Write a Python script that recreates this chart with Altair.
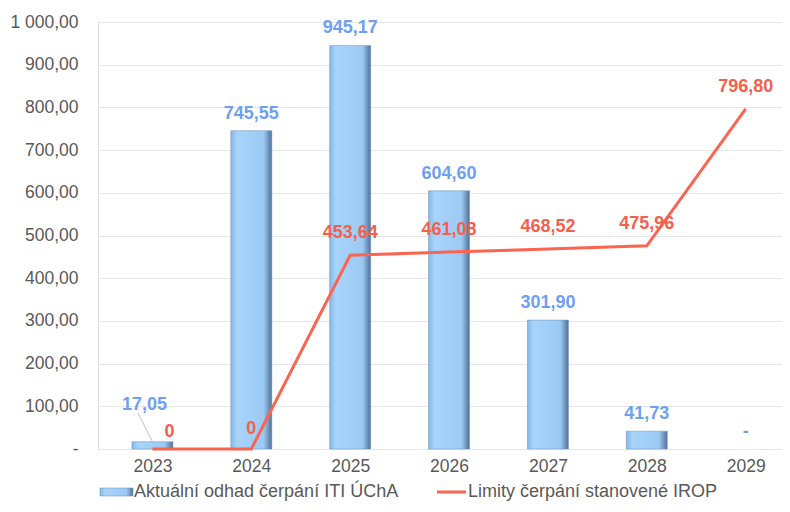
import altair as alt
import pandas as pd

years = [2023, 2024, 2025, 2026, 2027, 2028, 2029]
odhad = [17.05, 745.55, 945.17, 604.60, 301.90, 41.73, 0]
limity = [0, 0, 453.64, 461.08, 468.52, 475.96, 796.80]
series_bar = "Aktuální odhad čerpání ITI ÚChA"
series_line = "Limity čerpání stanovené IROP"

df = pd.DataFrame({"rok": years, "odhad": odhad, "limity": limity})

FONT = "Liberation Sans"
BLUE_TXT = "#6f9ff0"
RED = "#fa6450"
RED_TXT = "#f5604c"

xscale = alt.Scale(domain=[2022.5, 2029.317], nice=False, zero=False)
yscale = alt.Scale(domain=[0, 1000], nice=False)

x = alt.X("rok:Q", scale=xscale, title=None,
          axis=alt.Axis(values=years, format="d", grid=False, domain=False, ticks=False,
                        labelFontSize=17.5, labelColor="#595959", labelFont=FONT,
                        labelPadding=8))

base = alt.Chart(df)

grad = alt.Gradient(
    gradient="linear", x1=0, x2=1, y1=0, y2=0,
    stops=[alt.GradientStop(offset=0, color="#86b8e6"),
           alt.GradientStop(offset=0.15, color="#a8d4fb"),
           alt.GradientStop(offset=0.8, color="#9ccaf4"),
           alt.GradientStop(offset=1, color="#4f7196")])

bars = base.transform_filter("datum.odhad > 0").mark_bar(
    size=41, color=grad, stroke="#6a8fb8", strokeWidth=0.5).encode(
    x=x,
    y=alt.Y("odhad:Q", scale=yscale, title=None,
            axis=alt.Axis(values=[0, 100, 200, 300, 400, 500, 600, 700, 800, 900, 1000],
                          labelExpr="datum.value == 0 ? '-' : (datum.value == 1000 ? '1 000,00' : replace(format(datum.value, '.2f'), '.', ','))",
                          gridColor="#e6e6e6", gridWidth=1, domain=False, ticks=False,
                          labelFontSize=17.5, labelColor="#595959", labelFont=FONT,
                          labelPadding=20)),
)

bar_labels = base.transform_filter("datum.rok != 2023").transform_calculate(
    lab="datum.odhad == 0 ? '-' : replace(format(datum.odhad, '.2f'), '.', ',')"
).mark_text(dy=-17, baseline="middle", fontSize=18, fontWeight="bold",
            color=BLUE_TXT, font=FONT).encode(
    x=alt.X("rok:Q", scale=xscale), y=alt.Y("odhad:Q", scale=yscale), text="lab:N")

bar_label_2023 = base.transform_filter("datum.rok == 2023").transform_calculate(
    lab="replace(format(datum.odhad, '.2f'), '.', ',')"
).mark_text(dy=-37, dx=-8, baseline="middle", fontSize=18, fontWeight="bold",
            color=BLUE_TXT, font=FONT).encode(
    x=alt.X("rok:Q", scale=xscale), y=alt.Y("odhad:Q", scale=yscale), text="lab:N")

line = base.mark_line(color=RED, strokeWidth=3).encode(
    x=alt.X("rok:Q", scale=xscale), y=alt.Y("limity:Q", scale=yscale))

line_labels = base.transform_filter("datum.rok > 2024").transform_calculate(
    lab="replace(format(datum.limity, '.2f'), '.', ',')"
).mark_text(dy=-22, baseline="middle", fontSize=18, fontWeight="bold",
            color=RED_TXT, font=FONT).encode(
    x=alt.X("rok:Q", scale=xscale), y=alt.Y("limity:Q", scale=yscale), text="lab:N")

zero_2023 = base.transform_filter("datum.rok == 2023").mark_text(
    dx=17, dy=-17, baseline="middle", fontSize=18, fontWeight="bold",
    color=RED_TXT, font=FONT).encode(
    x=alt.X("rok:Q", scale=xscale), y=alt.Y("limity:Q", scale=yscale), text=alt.value("0"))

zero_2024 = base.transform_filter("datum.rok == 2024").mark_text(
    dx=0, dy=-20, baseline="middle", fontSize=18, fontWeight="bold",
    color=RED_TXT, font=FONT).encode(
    x=alt.X("rok:Q", scale=xscale), y=alt.Y("limity:Q", scale=yscale), text=alt.value("0"))

leader = base.transform_filter("datum.rok == 2023").mark_rule(color="#bfbfbf", strokeWidth=1).encode(
    x=alt.X("rok:Q", scale=xscale), y=alt.Y("odhad:Q", scale=yscale),
    x2=alt.value(40), y2=alt.value(391))

# legend
LEG_Y = 470
legend_bar = alt.Chart(pd.DataFrame({"s": [series_bar]})).mark_bar(
    color=grad, stroke="#6a8fb8", strokeWidth=0.5).encode(
    x=alt.value(2), x2=alt.value(35), y=alt.value(LEG_Y - 4), y2=alt.value(LEG_Y + 4))
legend_bar_txt = alt.Chart(pd.DataFrame({"s": [series_bar]})).mark_text(
    align="left", baseline="middle", fontSize=18, color="#595959", font=FONT).encode(
    x=alt.value(36), y=alt.value(LEG_Y), text="s:N")
legend_line = alt.Chart(pd.DataFrame({"s": [series_line]})).mark_rule(color=RED, strokeWidth=3).encode(
    x=alt.value(339), x2=alt.value(368), y=alt.value(LEG_Y))
legend_line_txt = alt.Chart(pd.DataFrame({"s": [series_line]})).mark_text(
    align="left", baseline="middle", fontSize=18, color="#595959", font=FONT).encode(
    x=alt.value(370), y=alt.value(LEG_Y), text="s:N")

chart = alt.layer(
    bars, leader, line, bar_labels, bar_label_2023, line_labels, zero_2023, zero_2024,
    legend_bar, legend_bar_txt, legend_line, legend_line_txt
).properties(
    width=684, height=427,
    padding={"left": 90, "top": 14, "right": 0, "bottom": 54},
    autosize=alt.AutoSizeParams(type="none"),
).configure_view(stroke=None).configure(background="white")

chart.save("out.html", embed_options={"renderer": "svg", "actions": False})
